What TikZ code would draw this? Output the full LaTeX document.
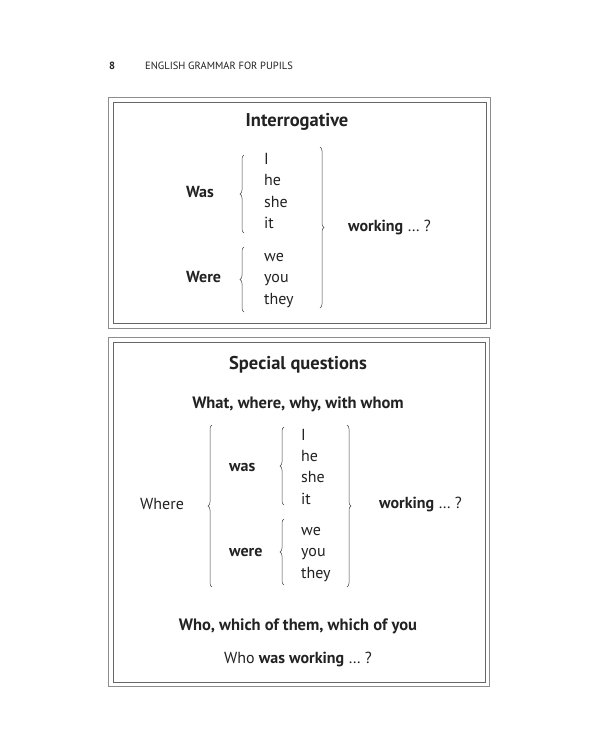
\documentclass[tikz,border=0pt]{standalone}
\usepackage{fontspec}
\setmainfont{PT Sans}
\usetikzlibrary{decorations.pathreplacing}
\definecolor{ink}{HTML}{222222}
\begin{document}
\begin{tikzpicture}[x=1pt,y=-1pt,
  txt/.style={inner sep=0pt, text=ink, font=\fontsize{16}{19}\selectfont, text height=10.5pt, text depth=2.5pt},
  bold/.style={txt, font=\fontsize{16}{19}\selectfont\bfseries},
  ttl/.style={txt, font=\fontsize{18.5}{21}\selectfont\bfseries, text height=12.5pt, text depth=3pt},
  sub/.style={txt, font=\fontsize{16.5}{19}\selectfont\bfseries},
  hdr/.style={txt, font=\fontsize{10.5}{12}\selectfont, text height=7.5pt, text depth=2pt},
  curly/.style={decorate, decoration={brace, amplitude=4pt}, draw=ink!85, line width=0.5pt},
  outerbox/.style={draw=black!45, line width=0.8pt},
  innerbox/.style={draw=black!60, line width=0.6pt}]
\useasboundingbox (0,0) rectangle (600,750);
\fill[white] (0,0) rectangle (600,750);
% header
\node[hdr, font=\fontsize{10.5}{12}\selectfont\bfseries, anchor=west] (pnum) at (109,67) {8};
\node[hdr, anchor=west] (htitle) at (145,67) {ENGLISH GRAMMAR FOR PUPILS};
% box 1
\draw[outerbox] (108,97) rectangle (490,328);
\draw[innerbox] (113,102) rectangle (486,323);
\node[ttl] (t1) at (297,122) {Interrogative};
\node[bold, anchor=west] (was1) at (186,193) {Was};
\node[bold, anchor=west] (were1) at (186,278) {Were};
\node[txt, anchor=west] (a1) at (264,160) {I};
\node[txt, anchor=west] (a2) at (264,181.5) {he};
\node[txt, anchor=west] (a3) at (264,203) {she};
\node[txt, anchor=west] (a4) at (264,224.5) {it};
\node[txt, anchor=west] (a5) at (264,257) {we};
\node[txt, anchor=west] (a6) at (264,278.5) {you};
\node[txt, anchor=west] (a7) at (264,300) {they};
\node[txt, anchor=west] (w1) at (348,227) {\textbf{working} … ?};
\coordinate (b1a) at (244,233); \coordinate (b1b) at (244,155);
\coordinate (b2a) at (244,312); \coordinate (b2b) at (244,247);
\coordinate (b3a) at (320,147); \coordinate (b3b) at (320,308);
\draw[curly] (b1a) -- (b1b);
\draw[curly] (b2a) -- (b2b);
\draw[curly] (b3a) -- (b3b);
% box 2
\draw[outerbox] (108,337) rectangle (489,686);
\draw[innerbox] (113,342) rectangle (485,682);
\node[ttl] (t2) at (298,365) {Special questions};
\node[sub] (s2) at (298,404) {What, where, why, with whom};
\node[txt, anchor=west] (where) at (140,505) {Where};
\node[bold, anchor=west] (was2) at (229,467) {was};
\node[bold, anchor=west] (were2) at (229,552) {were};
\node[txt, anchor=west] (c1) at (301,436) {I};
\node[txt, anchor=west] (c2) at (301,457) {he};
\node[txt, anchor=west] (c3) at (301,478.5) {she};
\node[txt, anchor=west] (c4) at (301,500) {it};
\node[txt, anchor=west] (c5) at (301,531) {we};
\node[txt, anchor=west] (c6) at (301,552.5) {you};
\node[txt, anchor=west] (c7) at (301,574) {they};
\node[txt, anchor=west] (w2) at (379,504) {\textbf{working} … ?};
\coordinate (d1a) at (212,587); \coordinate (d1b) at (212,425);
\coordinate (d2a) at (284,505); \coordinate (d2b) at (284,427);
\coordinate (d3a) at (284,585); \coordinate (d3b) at (284,519);
\coordinate (d4a) at (347,425); \coordinate (d4b) at (347,587);
\draw[curly] (d1a) -- (d1b);
\draw[curly] (d2a) -- (d2b);
\draw[curly] (d3a) -- (d3b);
\draw[curly] (d4a) -- (d4b);
\node[sub] (who) at (298,626) {Who, which of them, which of you};
\node[txt] (ex) at (298,659) {Who \textbf{was working} … ?};
\end{tikzpicture}
\end{document}
